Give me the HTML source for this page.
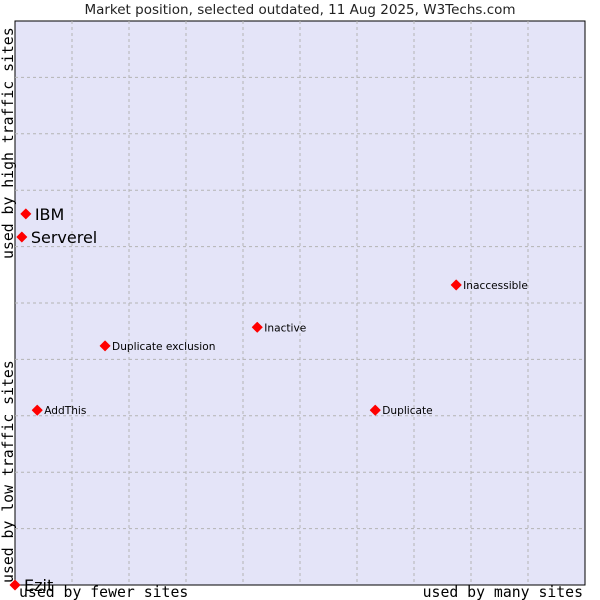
<!DOCTYPE html>
<html><head><meta charset="utf-8"><style>
body{margin:0;background:#fff;width:600px;height:600px;overflow:hidden}
svg{display:block}
</style></head><body>
<svg id="chart" width="600" height="600" xmlns="http://www.w3.org/2000/svg">
<text x="300" y="14" text-anchor="middle" font-family="DejaVu Sans, sans-serif" font-size="13.5" fill="#222">Market position, selected outdated, 11 Aug 2025, W3Techs.com</text>
<rect x="15" y="21" width="570" height="564" fill="#e4e4f8" stroke="#000" stroke-width="1"/>
<g id="grid"></g>
<text x="19" y="597" font-family="DejaVu Sans Mono, monospace" font-size="14.8" fill="#000">used by fewer sites</text>
<text x="583" y="597" text-anchor="end" font-family="DejaVu Sans Mono, monospace" font-size="14.8" fill="#000">used by many sites</text>
<text transform="translate(13,583) rotate(-90)" font-family="DejaVu Sans Mono, monospace" font-size="14.8" fill="#000">used by low traffic sites</text>
<text transform="translate(13,259) rotate(-90)" font-family="DejaVu Sans Mono, monospace" font-size="14.8" fill="#000">used by high traffic sites</text>
<g id="points"></g>
</svg>
<script>
const names = ["IBM","Serverel","Inaccessible","Inactive","Duplicate exclusion","AddThis","Duplicate","Ezit"];
const xValues = [1.9,1.2,77.4,42.5,15.8,3.9,63.2,0];
const yValues = [65.8,61.7,53.2,45.7,42.4,31.0,31.0,0];
const bigLabel = [true,true,false,false,false,false,false,true];
const NS="http://www.w3.org/2000/svg";
const L=15,T=21,W=570,H=564;
const sx=v=>L+v/100*W, sy=v=>T+H-v/100*H;
const grid=document.getElementById('grid');
for(let i=1;i<10;i++){
  const lx=document.createElementNS(NS,'line');
  
  
  const gx=L+i*W/10;
  lx.setAttribute('x1',gx);lx.setAttribute('x2',gx);lx.setAttribute('y1',T);lx.setAttribute('y2',T+H);
  lx.setAttribute('stroke','#b4b4b4');lx.setAttribute('stroke-dasharray','3,3');
  grid.appendChild(lx);
  const ly=document.createElementNS(NS,'line');
  
  
  const gy=T+i*H/10;
  ly.setAttribute('y1',gy);ly.setAttribute('y2',gy);ly.setAttribute('x1',L);ly.setAttribute('x2',L+W);
  ly.setAttribute('stroke','#b4b4b4');ly.setAttribute('stroke-dasharray','3,3');
  grid.appendChild(ly);
}
const pts=document.getElementById('points');
names.forEach((n,i)=>{
  const x=sx(xValues[i]),y=sy(yValues[i]);
  const d=document.createElementNS(NS,'path');
  
  
  d.setAttribute('d',`M${x} ${y-5}L${x+5} ${y}L${x} ${y+5}L${x-5} ${y}Z`);
  d.setAttribute('fill','#f00');
  d.setAttribute('stroke','#f00');
  d.setAttribute('stroke-width','0.8');
  d.setAttribute('stroke-linejoin','round');
  pts.appendChild(d);
  const t=document.createElementNS(NS,'text');
  
  
  t.setAttribute('x',x+(bigLabel[i]?9:7));
  t.setAttribute('y',y+(bigLabel[i]?6:4));
  t.setAttribute('font-family','DejaVu Sans, sans-serif');
  t.setAttribute('font-size',bigLabel[i]?'16':'10.6');
  t.setAttribute('fill','#000');
  t.textContent=n;
  pts.appendChild(t);
});
</script>
</body></html>
